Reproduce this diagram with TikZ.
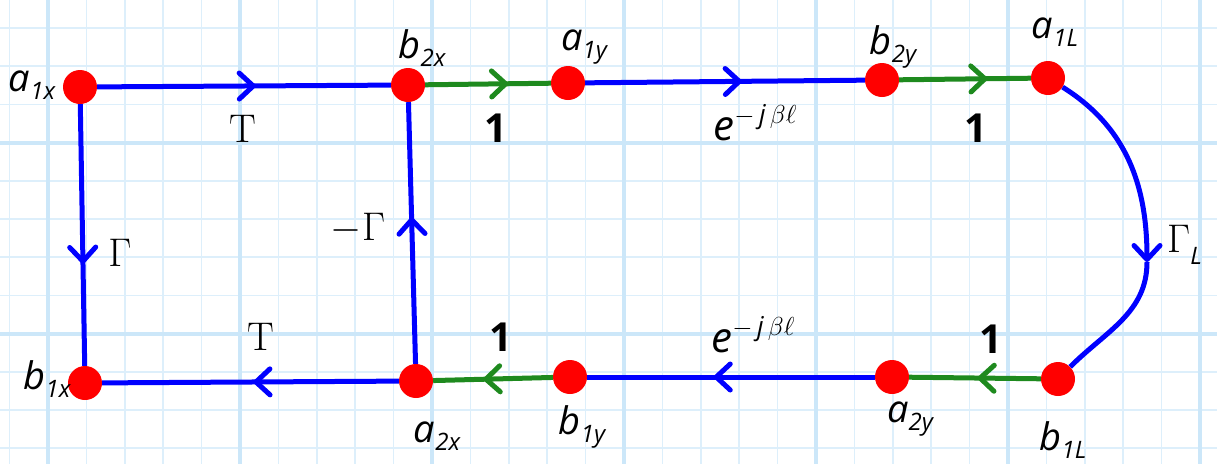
\RequirePackage{fix-cm}
\documentclass[tikz,border=0pt]{standalone}
\usepackage{fontspec}
\usetikzlibrary{arrows.meta, decorations.markings}
\newfontfamily\comic{Open Sans}
\definecolor{gridthinc}{HTML}{DDEFFB}
\definecolor{gridthickc}{HTML}{CCE7F9}
\definecolor{vred}{HTML}{FF0000}
\definecolor{eblue}{HTML}{0000FF}
\definecolor{egreen}{HTML}{1E8A1E}
\newcommand\sub[1]{\raisebox{-8pt}{\fontsize{24}{24}\selectfont #1}}

\begin{document}
\begin{tikzpicture}[
    x=1pt, y=1pt,
    gthin/.style={gridthinc, line width=1.6pt},
    gthick/.style={gridthickc, line width=4pt},
    vtx/.style={circle, fill=vred, minimum size=34pt, inner sep=0pt},
    vlbl/.style={inner sep=0pt, font=\fontsize{38}{38}\selectfont\comic\itshape},
    elbl/.style={inner sep=0pt, font=\fontsize{40}{40}\selectfont},
    onelbl/.style={inner sep=0pt, font=\fontsize{40}{40}\selectfont\comic\bfseries},
    barb/.tip={Straight Barb[length=14pt, width=26pt, round]},
    bline/.style={eblue, line width=5pt},
    gline/.style={egreen, line width=5pt},
    midarr/.style={postaction={decorate}, decoration={markings,
        mark=at position #1 with {\arrow{barb}}}},
]
\useasboundingbox (0,0) rectangle (1217,-464);

% === GRID ===
\foreach \k in {0,...,31}
    \draw[gthin] ({9.6+38.4*\k},0) -- ++(0,-464);
\foreach \k in {0,...,11}
    \draw[gthin] (0,{-28-38.2*\k}) -- ++(1217,0);
\foreach \x in {48,240,432,624,816,1008,1200}
    \draw[gthick] (\x,0) -- ++(0,-464);
\foreach \y in {142.6,333.6}
    \draw[gthick] (0,-\y) -- ++(1217,0);

% === VERTICES with labels ===
\foreach \nm/\x/\y/\lx/\ly/\lt in {
    a1x/80/87/32/85/{a\sub{1x}},
    b2x/408/85/422/48/{b\sub{2x}},
    a1y/568/83/584/47/{a\sub{1y}},
    b2y/882/80/893/47/{b\sub{2y}},
    a1L/1048/78/1055/32/{a\sub{1L}},
    b1x/85/383/47/379/{b\sub{1x}},
    a2x/416/381/437/436/{a\sub{2x}},
    b1y/570/377/582/427/{b\sub{1y}},
    a2y/892/377/910/419/{a\sub{2y}},
    b1L/1058/379/1063/440/{b\sub{1L}}%
}{
    \node[vtx] (\nm) at (\x,-\y) {};
    \node[vlbl] (\nm-lbl) at (\lx,-\ly) {\lt};
}
\coordinate (gL) at (1147,-262);

% === BRANCHES ===
\draw[bline, midarr=0.54] (a1x) -- (b2x);
\draw[gline, midarr=0.66] (b2x) -- (a1y);
\draw[bline, midarr=0.56] (a1y) -- (b2y);
\draw[gline, midarr=0.67] (b2y) -- (a1L);
\draw[bline, -barb] (a1L) to[out=-32, in=90] (gL);
\draw[bline] (gL) to[out=-90, in=45] (b1L);
\draw[gline, midarr=0.48] (b1L) -- (a2y);
\draw[bline, midarr=0.56] (a2y) -- (b1y);
\draw[gline, midarr=0.58] (b1y) -- (a2x);
\draw[bline, midarr=0.49] (a2x) -- (b1x);
\draw[bline, midarr=0.61] (a1x) -- (b1x);
\draw[bline, midarr=0.56] (a2x) -- (b2x);

% === BRANCH GAINS ===
\node[elbl] (tTop) at (243,-129) {T};
\node[elbl] (tBot) at (261,-337) {T};
\node[elbl] (gLeft) at (120,-253) {$\Gamma$};
\node[elbl] (gMid) at (358,-228) {$-\Gamma$};
\node[elbl, anchor=west] (gLoad) at (1167,-245)
    {$\Gamma$\raisebox{-12pt}{\fontsize{24}{24}\selectfont\comic\itshape L}};
\node[onelbl] (oneA) at (496,-128) {1};
\node[onelbl] (oneB) at (976,-128) {1};
\node[onelbl] (oneC) at (501,-337) {1};
\node[onelbl] (oneD) at (991,-339) {1};
\foreach \nm/\x/\y in {eTop/755/123, eBot/753/335}
    \node[inner sep=0pt] (\nm) at (\x,-\y) {\fontsize{42}{42}\selectfont\comic\itshape e%
        \raisebox{17pt}{\fontsize{26}{26}\selectfont$-$\,j\,\upshape$\beta\ell$}};

\end{tikzpicture}
\end{document}
